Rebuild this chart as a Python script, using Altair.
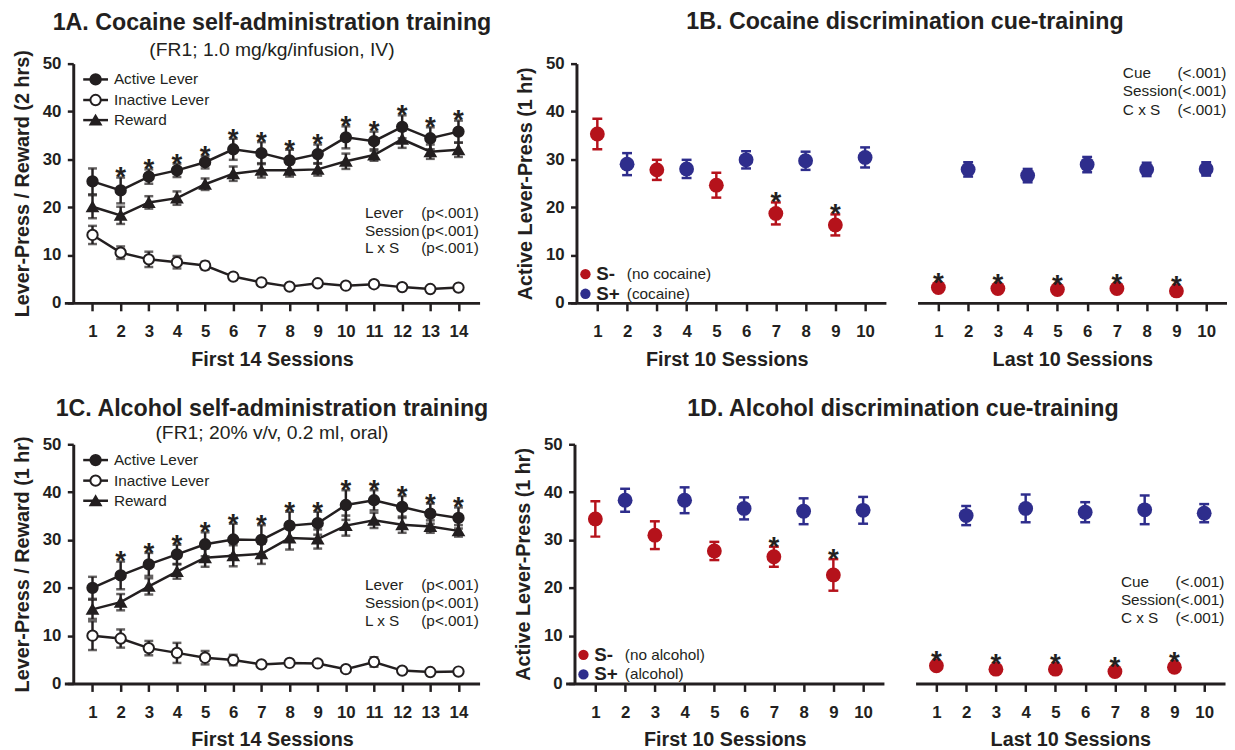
import altair as alt
import pandas as pd

# ---------------- data ----------------
sessions14 = list(range(1, 15))
sessions10 = list(range(1, 11))
series_names = ["Active Lever", "Inactive Lever", "Reward"]

# 1A cocaine self-administration (2 hrs)
coc_active_mean = [25.4, 23.5, 26.4, 27.7, 29.4, 32.1, 31.3, 29.8, 31.1, 34.6, 33.8, 36.8, 34.4, 35.8]
coc_active_sem = [2.7, 2.7, 1.5, 1.4, 1.3, 2.2, 2.3, 2.2, 2.0, 2.3, 2.0, 2.4, 2.3, 2.3]
coc_inactive_mean = [14.2, 10.5, 9.1, 8.5, 7.8, 5.5, 4.3, 3.4, 4.1, 3.6, 3.9, 3.3, 2.9, 3.2]
coc_inactive_sem = [1.9, 1.3, 1.6, 1.3, 0.8, 0.6, 0.6, 0.5, 0.5, 0.4, 0.5, 0.4, 0.3, 0.4]
coc_reward_mean = [20.1, 18.3, 21.0, 21.9, 24.8, 27.0, 27.7, 27.7, 27.9, 29.6, 30.9, 34.2, 31.6, 32.0]
coc_reward_sem = [2.4, 1.8, 1.3, 1.4, 1.2, 1.5, 1.5, 1.3, 1.3, 1.6, 1.2, 1.8, 1.5, 1.5]
coc_sa_stars = [2, 3, 4, 5, 6, 7, 8, 9, 10, 11, 12, 13, 14]

# 1C alcohol self-administration (1 hr)
alc_active_mean = [20.0, 22.6, 24.9, 27.0, 29.1, 30.1, 30.0, 33.0, 33.5, 37.3, 38.3, 36.9, 35.5, 34.6]
alc_active_sem = [2.3, 2.9, 2.4, 2.0, 2.5, 3.3, 3.1, 2.9, 2.4, 3.1, 2.1, 2.3, 2.1, 2.2]
alc_inactive_mean = [10.0, 9.4, 7.4, 6.4, 5.4, 4.9, 4.0, 4.3, 4.2, 3.0, 4.5, 2.7, 2.4, 2.5]
alc_inactive_sem = [3.0, 1.9, 1.5, 2.1, 1.4, 1.1, 0.5, 0.6, 0.6, 0.4, 1.0, 0.4, 0.3, 0.3]
alc_reward_mean = [15.5, 17.0, 20.3, 23.4, 26.3, 26.7, 27.1, 30.4, 30.2, 33.0, 34.1, 33.2, 32.8, 31.9]
alc_reward_sem = [2.0, 1.7, 1.7, 1.5, 1.9, 2.2, 2.1, 2.4, 2.0, 2.1, 1.6, 1.7, 1.3, 1.2]
alc_sa_stars = [2, 3, 4, 5, 6, 7, 8, 9, 10, 11, 12, 13, 14]

# discrimination cue-training: odd sessions S-, even sessions S+
cue_by_session = ["S-", "S+", "S-", "S+", "S-", "S+", "S-", "S+", "S-", "S+"]

coc_first_mean = [35.3, 29.0, 27.8, 28.0, 24.6, 29.9, 18.7, 29.7, 16.3, 30.4]
coc_first_sem = [3.2, 2.3, 2.1, 1.9, 2.6, 1.8, 2.3, 1.9, 2.2, 2.1]
coc_last_mean = [3.2, 27.9, 3.0, 26.6, 2.8, 28.9, 3.0, 27.9, 2.5, 28.0]
coc_last_sem = [0.3, 1.5, 0.3, 1.4, 0.3, 1.6, 0.3, 1.4, 0.3, 1.4]
coc_first_stars = [7, 9]
coc_last_stars = [1, 3, 5, 7, 9]

alc_first_mean = [34.4, 38.3, 31.0, 38.3, 27.7, 36.6, 26.5, 36.0, 22.7, 36.2]
alc_first_sem = [3.7, 2.4, 2.9, 2.7, 1.9, 2.3, 2.1, 2.7, 3.3, 2.8]
alc_last_mean = [3.7, 35.1, 3.0, 36.6, 3.0, 35.8, 2.5, 36.3, 3.4, 35.6]
alc_last_sem = [0.3, 2.0, 0.3, 2.9, 0.3, 2.1, 0.3, 3.0, 0.3, 1.9]
alc_first_stars = [7, 9]
alc_last_stars = [1, 3, 5, 7, 9]

sa_effects = ["Lever", "Session", "L x S"]
sa_pvals = ["(p<.001)", "(p<.001)", "(p<.001)"]
cue_effects = ["Cue", "Session", "C x S"]
cue_pvals = ["(<.001)", "(<.001)", "(<.001)"]

# ---------------- styling ----------------
INK = "#231f20"
RED = "#b5121b"
BLUE = "#2e2d8c"
FONT = "Liberation Sans"
SMALL = 15.5
Y_VALUES = [0, 10, 20, 30, 40, 50]


def sa_panel(am, asem, im, isem, rm, rsem, stars, title, subtitle, ytitle, annot_y,
             toffset, subpad):
    rows = []
    for name, m, s in zip(series_names, [am, im, rm], [asem, isem, rsem]):
        for ses, mv, sv in zip(sessions14, m, s):
            rows.append({"session": ses, "series": name, "mean": mv,
                         "lo": mv - sv, "hi": mv + sv})
    df = pd.DataFrame(rows)
    xs = alt.Scale(domain=[0, 14.75], nice=False, zero=False)
    ys = alt.Scale(domain=[0, 50], nice=False)
    shape_s = alt.Scale(domain=series_names, range=["circle", "circle", "triangle-up"])
    fill_s = alt.Scale(domain=series_names, range=[INK, "white", INK])
    xax = alt.Axis(values=sessions14, title="First 14 Sessions", labelOverlap=False)
    yax = alt.Axis(values=Y_VALUES, title=ytitle, offset=-9)

    def X(field="session"):
        return alt.X(f"{field}:Q", scale=xs, axis=xax)

    def Y(field):
        return alt.Y(f"{field}:Q", scale=ys, axis=yax)

    base = alt.Chart(df)
    lines = base.mark_line(color=INK, strokeWidth=2.5).encode(
        x=X(), y=Y("mean"), detail="series:N")
    bars = base.mark_rule(color=INK, strokeWidth=2.5).encode(x=X(), y=Y("lo"), y2="hi:Q")
    cap_hi = base.mark_tick(orient="horizontal", color=INK, thickness=2.5, size=9).encode(
        x=X(), y=Y("hi"))
    cap_lo = base.mark_tick(orient="horizontal", color=INK, thickness=2.5, size=9).encode(
        x=X(), y=Y("lo"))
    pts = base.mark_point(size=110, strokeWidth=2, stroke=INK, opacity=1, fillOpacity=1).encode(
        x=X(), y=Y("mean"),
        shape=alt.Shape("series:N", scale=shape_s, legend=None),
        fill=alt.Fill("series:N", scale=fill_s, legend=None))
    sdf = pd.DataFrame({"session": stars,
                        "top": [am[s - 1] + asem[s - 1] for s in stars],
                        "t": ["*"] * len(stars)})
    star = alt.Chart(sdf).mark_text(font=FONT, fontSize=28, fontWeight="bold", color=INK,
                                    baseline="alphabetic", dy=9).encode(
        x=X(), y=Y("top"), text="t:N")
    # statistics annotation (placed in data space)
    adf = pd.DataFrame({"eff": sa_effects, "p": sa_pvals, "y": annot_y})
    adf["xl"] = 10.68
    adf["xr"] = 14.72
    a1 = alt.Chart(adf).mark_text(font=FONT, fontSize=SMALL, color=INK, align="left",
                                  baseline="middle").encode(x=X("xl"), y=Y("y"), text="eff:N")
    a2 = alt.Chart(adf).mark_text(font=FONT, fontSize=SMALL, color=INK, align="right",
                                  baseline="middle").encode(x=X("xr"), y=Y("y"), text="p:N")
    # legend (drawn in data space)
    ldf = pd.DataFrame({"series": series_names, "y": [46.7, 42.4, 38.2]})
    ldf["x0"] = 0.67
    ldf["x1"] = 1.55
    ldf["xm"] = 1.11
    ldf["xt"] = 1.76
    lrule = alt.Chart(ldf).mark_rule(color=INK, strokeWidth=2.5).encode(
        x=X("x0"), x2="x1:Q", y=Y("y"))
    lpts = alt.Chart(ldf).mark_point(size=110, strokeWidth=2, stroke=INK, opacity=1,
                                     fillOpacity=1).encode(
        x=X("xm"), y=Y("y"),
        shape=alt.Shape("series:N", scale=shape_s, legend=None),
        fill=alt.Fill("series:N", scale=fill_s, legend=None))
    ltxt = alt.Chart(ldf).mark_text(font=FONT, fontSize=SMALL, color=INK, align="left",
                                    baseline="middle").encode(x=X("xt"), y=Y("y"), text="series:N")
    return alt.layer(lines, bars, cap_hi, cap_lo, pts, star, a1, a2, lrule, lpts, ltxt).properties(
        width=420, height=242,
        title=alt.Title(title, subtitle=subtitle, fontSize=23.5, fontWeight="bold", font=FONT,
                        subtitleFontSize=19.5, subtitleFont=FONT, subtitleColor=INK, color=INK,
                        anchor="middle", frame="group", offset=toffset, subtitlePadding=subpad))


def disc_sub(means, sems, stars, xtitle, domain, width, first, ytitle=None,
             legend_desc=None, annot_y=None):
    df = pd.DataFrame({"session": sessions10, "cue": cue_by_session, "mean": means,
                       "lo": [m - s for m, s in zip(means, sems)],
                       "hi": [m + s for m, s in zip(means, sems)]})
    xs = alt.Scale(domain=domain, nice=False, zero=False)
    ys = alt.Scale(domain=[0, 50], nice=False)
    cs = alt.Scale(domain=["S-", "S+"], range=[RED, BLUE])
    xax = alt.Axis(values=sessions10, title=xtitle, labelOverlap=False)
    if first:
        yax = alt.Axis(values=Y_VALUES, title=ytitle, offset=-9)
    else:
        yax = None

    def X(field="session"):
        return alt.X(f"{field}:Q", scale=xs, axis=xax)

    def Y(field):
        return alt.Y(f"{field}:Q", scale=ys, axis=yax)

    col = alt.Color("cue:N", scale=cs, legend=None)
    base = alt.Chart(df)
    bars = base.mark_rule(strokeWidth=2.5).encode(x=X(), y=Y("lo"), y2="hi:Q", color=col)
    cap_hi = base.mark_tick(orient="horizontal", thickness=2.5, size=10, opacity=1).encode(
        x=X(), y=Y("hi"), color=col)
    cap_lo = base.mark_tick(orient="horizontal", thickness=2.5, size=10, opacity=1).encode(
        x=X(), y=Y("lo"), color=col)
    pts = base.mark_circle(size=225, opacity=1).encode(x=X(), y=Y("mean"), color=col)
    sdf = pd.DataFrame({"session": stars,
                        "top": [means[s - 1] + max(sems[s - 1], 1.0) for s in stars],
                        "t": ["*"] * len(stars)})
    star = alt.Chart(sdf).mark_text(font=FONT, fontSize=28, fontWeight="bold", color=INK,
                                    baseline="alphabetic", dy=9).encode(
        x=X(), y=Y("top"), text="t:N")
    layers = [bars, cap_hi, cap_lo, pts, star]
    if legend_desc is not None:
        ldf = pd.DataFrame({"cue": ["S-", "S+"], "desc": legend_desc, "y": [6.0, 1.9]})
        ldf["xd"] = 0.6
        ldf["xs1"] = 0.96
        ldf["xs2"] = 1.99
        ld = alt.Chart(ldf).mark_circle(size=110, opacity=1).encode(
            x=X("xd"), y=Y("y"), color=col)
        lt1 = alt.Chart(ldf).mark_text(font=FONT, fontSize=19, fontWeight="bold", color=INK,
                                       align="left", baseline="middle").encode(
            x=X("xs1"), y=Y("y"), text="cue:N")
        lt2 = alt.Chart(ldf).mark_text(font=FONT, fontSize=SMALL, color=INK,
                                       align="left", baseline="middle").encode(
            x=X("xs2"), y=Y("y"), text="desc:N")
        layers += [ld, lt1, lt2]
    if annot_y is not None:
        adf = pd.DataFrame({"eff": cue_effects, "p": cue_pvals, "y": annot_y})
        adf["xl"] = 7.2
        adf["xr"] = 10.68
        a1 = alt.Chart(adf).mark_text(font=FONT, fontSize=SMALL, color=INK, align="left",
                                      baseline="middle").encode(
            x=X("xl"), y=Y("y"), text="eff:N")
        a2 = alt.Chart(adf).mark_text(font=FONT, fontSize=SMALL, color=INK, align="right",
                                      baseline="middle").encode(
            x=X("xr"), y=Y("y"), text="p:N")
        layers += [a1, a2]
    return alt.layer(*layers).properties(width=width, height=242)


def disc_panel(fm, fs, fstars, lm, ls, lstars, title, legend_desc, annot_y, toffset):
    left = disc_sub(fm, fs, fstars, "First 10 Sessions", [0, 10.7], 322, True,
                    ytitle="Active Lever-Press (1 hr)", legend_desc=legend_desc)
    right = disc_sub(lm, ls, lstars, "Last 10 Sessions", [0.3, 10.7], 313, False,
                     annot_y=annot_y)
    return alt.hconcat(left, right, spacing=32,
                       title=alt.Title(title, fontSize=23.5, fontWeight="bold", font=FONT,
                                       color=INK, anchor="middle", offset=toffset, dx=34))


panelA = sa_panel(coc_active_mean, coc_active_sem, coc_inactive_mean, coc_inactive_sem,
                  coc_reward_mean, coc_reward_sem, coc_sa_stars,
                  "1A. Cocaine self-administration training", "(FR1; 1.0 mg/kg/infusion, IV)",
                  "Lever-Press / Reward (2 hrs)", [18.8, 15.1, 11.4], -10, 7)
panelB = disc_panel(coc_first_mean, coc_first_sem, coc_first_stars,
                    coc_last_mean, coc_last_sem, coc_last_stars,
                    "1B. Cocaine discrimination cue-training",
                    ["(no cocaine)", "(cocaine)"], [48.1, 44.2, 40.4], 22)
panelC = sa_panel(alc_active_mean, alc_active_sem, alc_inactive_mean, alc_inactive_sem,
                  alc_reward_mean, alc_reward_sem, alc_sa_stars,
                  "1C. Alcohol self-administration training", "(FR1; 20% v/v, 0.2 ml, oral)",
                  "Lever-Press / Reward (1 hr)", [20.5, 16.8, 13.0], -7, 4)
panelD = disc_panel(alc_first_mean, alc_first_sem, alc_first_stars,
                    alc_last_mean, alc_last_sem, alc_last_stars,
                    "1D. Alcohol discrimination cue-training",
                    ["(no alcohol)", "(alcohol)"], [21.2, 17.5, 13.6], 15)

row1 = alt.hconcat(panelA, panelB, spacing=24)
row2 = alt.hconcat(panelC, panelD, spacing=24)

chart = alt.vconcat(row1, row2, spacing=28).properties(
    padding={"left": 4, "top": -3, "right": 0, "bottom": 0}
).configure_view(stroke=None).configure_axis(
    grid=False, domainColor=INK, domainWidth=3, tickColor=INK, tickWidth=2.5,
    labelColor=INK, titleColor=INK, labelFont=FONT, titleFont=FONT,
    labelFontSize=17, labelFontWeight="bold", titleFontSize=20, titleFontWeight="bold",
    labelOverlap=False
).configure_axisX(
    tickSize=8, labelPadding=13, titlePadding=10
).configure_axisY(
    tickSize=6, labelPadding=6.5, titlePadding=10
)

chart.save("out.html", embed_options={"renderer": "svg", "actions": False})
